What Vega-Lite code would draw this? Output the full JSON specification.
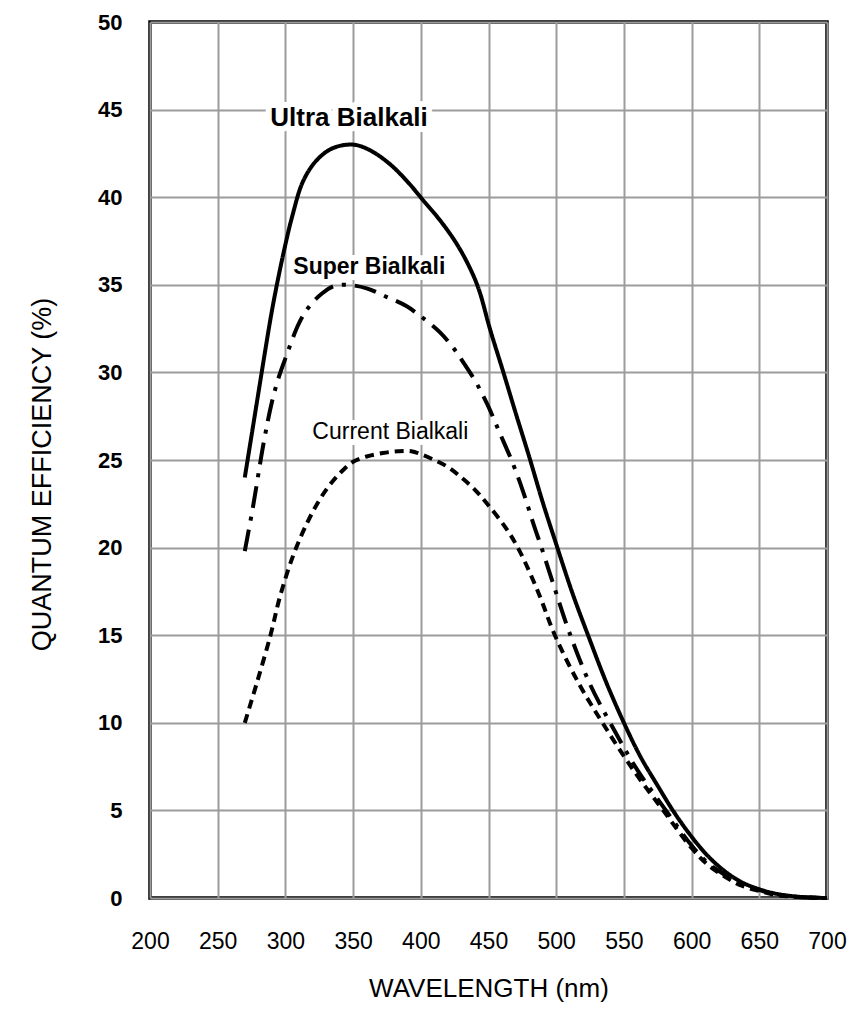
{
  "$schema": "https://vega.github.io/schema/vega-lite/v6.json",
  "width": 677,
  "height": 876,
  "autosize": {"type": "none"},
  "padding": {"left": 150, "top": 22, "right": 39, "bottom": 114},
  "background": "white",
  "config": {
    "view": {"stroke": "black", "strokeWidth": 3.5},
    "font": "Liberation Sans",
    "axis": {"labelColor": "black", "titleColor": "black"}
  },
  "datasets": {
    "curves": [
      {"series": "Ultra", "wl": 270, "qe": 24.0},
      {"series": "Ultra", "wl": 275, "qe": 26.4},
      {"series": "Ultra", "wl": 280, "qe": 28.8},
      {"series": "Ultra", "wl": 285, "qe": 31.2},
      {"series": "Ultra", "wl": 290, "qe": 33.5},
      {"series": "Ultra", "wl": 295, "qe": 35.5},
      {"series": "Ultra", "wl": 300, "qe": 37.3},
      {"series": "Ultra", "wl": 305, "qe": 38.9},
      {"series": "Ultra", "wl": 313, "qe": 40.9},
      {"series": "Ultra", "wl": 323, "qe": 42.1},
      {"series": "Ultra", "wl": 335, "qe": 42.8},
      {"series": "Ultra", "wl": 350, "qe": 43.0},
      {"series": "Ultra", "wl": 362, "qe": 42.7},
      {"series": "Ultra", "wl": 377, "qe": 41.9},
      {"series": "Ultra", "wl": 390, "qe": 40.9},
      {"series": "Ultra", "wl": 402, "qe": 39.8},
      {"series": "Ultra", "wl": 414, "qe": 38.7},
      {"series": "Ultra", "wl": 426, "qe": 37.4},
      {"series": "Ultra", "wl": 436, "qe": 36.0},
      {"series": "Ultra", "wl": 443, "qe": 34.7},
      {"series": "Ultra", "wl": 451, "qe": 32.5},
      {"series": "Ultra", "wl": 461, "qe": 30.0},
      {"series": "Ultra", "wl": 470, "qe": 27.7},
      {"series": "Ultra", "wl": 480, "qe": 25.2},
      {"series": "Ultra", "wl": 490, "qe": 22.6},
      {"series": "Ultra", "wl": 500, "qe": 20.2},
      {"series": "Ultra", "wl": 512, "qe": 17.4},
      {"series": "Ultra", "wl": 524, "qe": 14.9},
      {"series": "Ultra", "wl": 537, "qe": 12.3},
      {"series": "Ultra", "wl": 550, "qe": 10.0},
      {"series": "Ultra", "wl": 562, "qe": 8.1},
      {"series": "Ultra", "wl": 575, "qe": 6.4},
      {"series": "Ultra", "wl": 587, "qe": 4.9},
      {"series": "Ultra", "wl": 600, "qe": 3.5},
      {"series": "Ultra", "wl": 612, "qe": 2.4},
      {"series": "Ultra", "wl": 625, "qe": 1.5},
      {"series": "Ultra", "wl": 637, "qe": 0.9},
      {"series": "Ultra", "wl": 650, "qe": 0.5},
      {"series": "Ultra", "wl": 662, "qe": 0.25},
      {"series": "Ultra", "wl": 675, "qe": 0.1},
      {"series": "Ultra", "wl": 687, "qe": 0.03},
      {"series": "Ultra", "wl": 700, "qe": 0.0},
      {"series": "Super", "wl": 270, "qe": 19.8},
      {"series": "Super", "wl": 276, "qe": 22.3},
      {"series": "Super", "wl": 284, "qe": 26.0},
      {"series": "Super", "wl": 290, "qe": 28.3},
      {"series": "Super", "wl": 295, "qe": 29.7},
      {"series": "Super", "wl": 300, "qe": 30.8},
      {"series": "Super", "wl": 310, "qe": 32.8},
      {"series": "Super", "wl": 318, "qe": 33.8},
      {"series": "Super", "wl": 327, "qe": 34.5},
      {"series": "Super", "wl": 335, "qe": 34.9},
      {"series": "Super", "wl": 345, "qe": 35.0},
      {"series": "Super", "wl": 360, "qe": 34.8},
      {"series": "Super", "wl": 375, "qe": 34.3},
      {"series": "Super", "wl": 389, "qe": 33.8},
      {"series": "Super", "wl": 400, "qe": 33.2},
      {"series": "Super", "wl": 414, "qe": 32.3},
      {"series": "Super", "wl": 424, "qe": 31.4},
      {"series": "Super", "wl": 432, "qe": 30.5},
      {"series": "Super", "wl": 441, "qe": 29.4},
      {"series": "Super", "wl": 449, "qe": 28.2},
      {"series": "Super", "wl": 458, "qe": 26.6},
      {"series": "Super", "wl": 468, "qe": 24.8},
      {"series": "Super", "wl": 476, "qe": 23.1},
      {"series": "Super", "wl": 483, "qe": 21.4},
      {"series": "Super", "wl": 490, "qe": 19.8},
      {"series": "Super", "wl": 500, "qe": 17.4},
      {"series": "Super", "wl": 510, "qe": 15.1},
      {"series": "Super", "wl": 525, "qe": 12.2},
      {"series": "Super", "wl": 542, "qe": 9.7},
      {"series": "Super", "wl": 560, "qe": 7.3},
      {"series": "Super", "wl": 581, "qe": 5.0},
      {"series": "Super", "wl": 600, "qe": 3.0},
      {"series": "Super", "wl": 612, "qe": 2.0},
      {"series": "Super", "wl": 625, "qe": 1.3},
      {"series": "Super", "wl": 637, "qe": 0.8},
      {"series": "Super", "wl": 650, "qe": 0.45},
      {"series": "Super", "wl": 662, "qe": 0.2},
      {"series": "Super", "wl": 675, "qe": 0.08},
      {"series": "Super", "wl": 700, "qe": 0.0},
      {"series": "Current", "wl": 270, "qe": 10.0},
      {"series": "Current", "wl": 279, "qe": 12.3},
      {"series": "Current", "wl": 289, "qe": 15.0},
      {"series": "Current", "wl": 296, "qe": 17.2},
      {"series": "Current", "wl": 306, "qe": 19.6},
      {"series": "Current", "wl": 316, "qe": 21.4},
      {"series": "Current", "wl": 325, "qe": 22.7},
      {"series": "Current", "wl": 333, "qe": 23.6},
      {"series": "Current", "wl": 341, "qe": 24.3},
      {"series": "Current", "wl": 350, "qe": 24.9},
      {"series": "Current", "wl": 360, "qe": 25.2},
      {"series": "Current", "wl": 372, "qe": 25.4},
      {"series": "Current", "wl": 383, "qe": 25.5},
      {"series": "Current", "wl": 393, "qe": 25.5},
      {"series": "Current", "wl": 401, "qe": 25.3},
      {"series": "Current", "wl": 410, "qe": 25.0},
      {"series": "Current", "wl": 420, "qe": 24.6},
      {"series": "Current", "wl": 430, "qe": 24.0},
      {"series": "Current", "wl": 440, "qe": 23.3},
      {"series": "Current", "wl": 449, "qe": 22.5},
      {"series": "Current", "wl": 463, "qe": 21.1},
      {"series": "Current", "wl": 473, "qe": 19.8},
      {"series": "Current", "wl": 487, "qe": 17.4},
      {"series": "Current", "wl": 499, "qe": 15.0},
      {"series": "Current", "wl": 517, "qe": 12.2},
      {"series": "Current", "wl": 535, "qe": 9.9},
      {"series": "Current", "wl": 557, "qe": 7.3},
      {"series": "Current", "wl": 579, "qe": 5.0},
      {"series": "Current", "wl": 600, "qe": 2.85},
      {"series": "Current", "wl": 612, "qe": 1.9},
      {"series": "Current", "wl": 625, "qe": 1.2},
      {"series": "Current", "wl": 637, "qe": 0.7},
      {"series": "Current", "wl": 650, "qe": 0.4},
      {"series": "Current", "wl": 662, "qe": 0.18},
      {"series": "Current", "wl": 675, "qe": 0.07},
      {"series": "Current", "wl": 700, "qe": 0.0}
    ],
    "labels": [
      {"label": "Ultra Bialkali", "wl": 347, "qe": 44.5},
      {"label": "Super Bialkali", "wl": 362, "qe": 36.0},
      {"label": "Current Bialkali", "wl": 377.5, "qe": 26.6}
    ]
  },
  "encoding": {
    "x": {
      "field": "wl", "type": "quantitative",
      "scale": {"domain": [200, 700], "nice": false, "zero": false},
      "axis": {
        "values": [200, 250, 300, 350, 400, 450, 500, 550, 600, 650, 700],
        "grid": true, "gridColor": "#9c9c9c", "gridWidth": 2,
        "domain": false, "ticks": false,
        "labelFontSize": 23, "labelPadding": 32, "labelFlush": false, "labelOverlap": false,
        "title": "WAVELENGTH (nm)", "titleFontSize": 26, "titleFontWeight": "normal",
        "titleY": 77, "titleBaseline": "top"
      }
    },
    "y": {
      "field": "qe", "type": "quantitative",
      "scale": {"domain": [0, 50], "nice": false},
      "axis": {
        "values": [0, 5, 10, 15, 20, 25, 30, 35, 40, 45, 50],
        "grid": true, "gridColor": "#9c9c9c", "gridWidth": 2,
        "domain": false, "ticks": false,
        "labelFontSize": 22, "labelFontWeight": "bold", "labelPadding": 28, "labelFlush": false, "labelOverlap": false,
        "title": "QUANTUM EFFICIENCY (%)", "titleFontSize": 27, "titleFontWeight": "normal",
        "titleX": -94, "titleY": 452
      }
    }
  },
  "layer": [
    {
      "data": {"name": "labels"},
      "transform": [{"filter": "datum.label !== 'Current Bialkali'"}],
      "mark": {"type": "text", "fontWeight": "bold", "fill": "white", "stroke": "white", "strokeWidth": 12, "strokeJoin": "round", "baseline": "middle", "align": "center"},
      "encoding": {
        "text": {"field": "label"},
        "size": {"field": "label", "scale": {"domain": ["Ultra Bialkali", "Super Bialkali"], "range": [26, 23]}, "legend": null}
      }
    },
    {
      "data": {"name": "labels"},
      "transform": [{"filter": "datum.label === 'Current Bialkali'"}],
      "mark": {"type": "text", "fontSize": 23, "fill": "white", "stroke": "white", "strokeWidth": 12, "strokeJoin": "round", "baseline": "middle", "align": "center"},
      "encoding": {"text": {"field": "label"}}
    },
    {
      "data": {"name": "curves"},
      "mark": {"type": "line", "color": "black", "strokeWidth": 4, "interpolate": "catmull-rom"},
      "encoding": {
        "detail": {"field": "series"},
        "strokeDash": {
          "field": "series",
          "scale": {"domain": ["Ultra", "Super", "Current"], "range": [[1, 0], [22, 9, 4, 9], [9, 6]]},
          "legend": null
        }
      }
    },
    {
      "data": {"name": "labels"},
      "transform": [{"filter": "datum.label !== 'Current Bialkali'"}],
      "mark": {"type": "text", "fontWeight": "bold", "fill": "black", "baseline": "middle", "align": "center"},
      "encoding": {
        "text": {"field": "label"},
        "size": {"field": "label", "scale": {"domain": ["Ultra Bialkali", "Super Bialkali"], "range": [26, 23]}, "legend": null}
      }
    },
    {
      "data": {"name": "labels"},
      "transform": [{"filter": "datum.label === 'Current Bialkali'"}],
      "mark": {"type": "text", "fontSize": 23, "fill": "black", "baseline": "middle", "align": "center"},
      "encoding": {"text": {"field": "label"}}
    }
  ]
}
